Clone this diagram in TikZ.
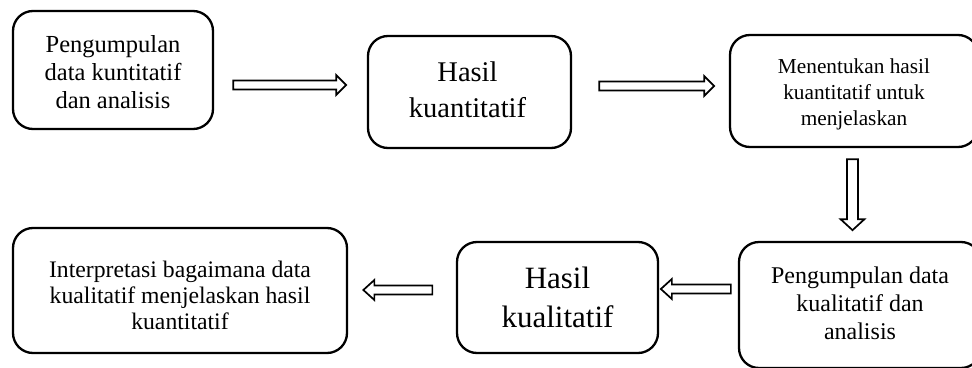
\documentclass[tikz,border=0pt]{standalone}
\usepackage{fontspec}
\setmainfont{Liberation Serif}
\usetikzlibrary{calc}
\tikzset{
  box/.style={draw, line width=2.3pt, rounded corners=20pt, inner sep=0pt},
  txt/.style={align=center, inner sep=0pt},
  arrowline/.style={draw, line width=1.7pt, fill=white, line join=miter},
  pics/barrow/.style args={#1/#2/#3/#4}{code={
    \path[arrowline] (0,-#2) -- (#1-#4,-#2) -- (#1-#4,-#3) -- (#1,0)
      -- (#1-#4,#3) -- (#1-#4,#2) -- (0,#2) -- cycle;
  }}
}
\begin{document}
\begin{tikzpicture}[x=1pt,y=-1pt]
\useasboundingbox (0,0) rectangle (972,367);
\fill[white] (0,0) rectangle (972,367);
\clip (0,0) rectangle (972,367);

% boxes
\node[box, minimum width=200pt, minimum height=118pt] (b1) at (113,70) {};
\node[box, minimum width=203pt, minimum height=112pt] (b2) at (469.5,92) {};
\node[box, minimum width=248pt, minimum height=112pt] (b3) at (854,91) {};
\node[box, minimum width=334pt, minimum height=125pt] (b4) at (180,290.5) {};
\node[box, minimum width=201pt, minimum height=111pt] (b5) at (557.5,297.5) {};
\node[box, minimum width=242pt, minimum height=126pt] (b6) at (860,305) {};

% texts
\node[txt, font={\fontsize{24.5}{28}\selectfont}] (t1) at ($(b1.center)+(0,1.8)$)
  {Pengumpulan\\data kuntitatif\\dan analisis};
\node[txt, font={\fontsize{28.5}{35.5}\selectfont}] (t2) at ($(b2.center)+(-2,-2.3)$)
  {Hasil\\kuantitatif};
\node[txt, font={\fontsize{21.3}{26}\selectfont}] (t3) at ($(b3.center)+(0,3.2)$)
  {Menentukan hasil\\kuantitatif untuk\\menjelaskan};
\node[txt, font={\fontsize{23.7}{26}\selectfont}] (t4) at ($(b4.center)+(0,5.3)$)
  {Interpretasi bagaimana data\\kualitatif menjelaskan hasil\\kuantitatif};
\node[txt, font={\fontsize{31}{39}\selectfont}] (t5) at ($(b5.center)+(0,-0.3)$)
  {Hasil\\kualitatif};
\node[txt, font={\fontsize{24}{28}\selectfont}] (t6) at ($(b6.center)+(0,-2.2)$)
  {Pengumpulan data\\kualitatif dan\\analisis};

% block arrows
\coordinate (a1) at ($(b1.east)+(19,15)$);
\coordinate (a2) at ($(b2.east)+(27,-6)$);
\coordinate (a3) at ($(b3.south)+(-1.5,11)$);
\coordinate (a4) at ($(b6.west)+(-7,-16)$);
\coordinate (a5) at ($(b5.west)+(-23.5,-7.5)$);

\pic at (a1) {barrow=113/4.5/10/10};
\pic at (a2) {barrow=115/4.5/10/10};
\pic[rotate=-90] at (a3) {barrow=71/5.5/12/11};
\pic[rotate=180] at (a4) {barrow=70/4.5/10/11};
\pic[rotate=180] at (a5) {barrow=69/4.5/10/11};
\end{tikzpicture}
\end{document}
